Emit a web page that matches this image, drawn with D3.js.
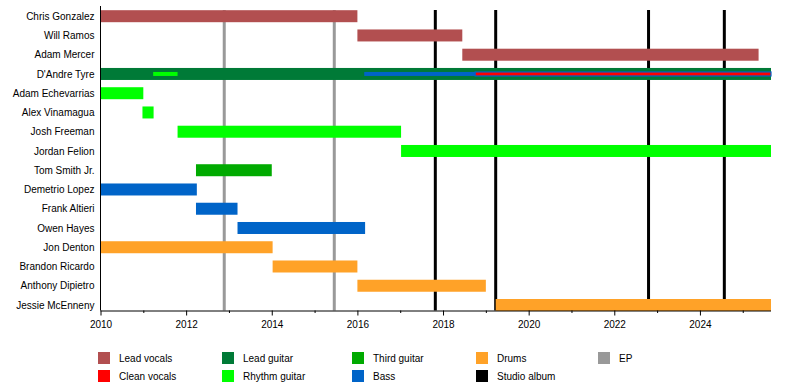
<!DOCTYPE html>
<html>
<head>
<meta charset="utf-8">
<script src="https://cdn.jsdelivr.net/npm/d3@7"></script>
<style>
  html, body { margin: 0; padding: 0; background: #fff; }
  svg { display: block; font-family: "Liberation Sans", Arial, sans-serif; }
</style>
</head>
<body>
<svg id="chart" width="800" height="390"></svg>
<script>
// ---- data ----
const startYear = 2010;
const endDate = 2025.66;

const members = [
  "Chris Gonzalez", "Will Ramos", "Adam Mercer", "D'Andre Tyre",
  "Adam Echevarrias", "Alex Vinamagua", "Josh Freeman", "Jordan Felion",
  "Tom Smith Jr.", "Demetrio Lopez", "Frank Altieri", "Owen Hayes",
  "Jon Denton", "Brandon Ricardo", "Anthony Dipietro", "Jessie McEnneny"
];

const roles = ["Lead vocals", "Clean vocals", "Lead guitar", "Rhythm guitar",
               "Third guitar", "Bass", "Drums"];
const roleColors = ["#b24f50", "#ff0000", "#007a37", "#00ff00",
                    "#00aa00", "#0064c8", "#ffa228"];

// main bars: [member, role, start, end]
const mainBars = [
  ["Chris Gonzalez", "Lead vocals", 2010, 2016.0],
  ["Will Ramos", "Lead vocals", 2016.0, 2018.45],
  ["Adam Mercer", "Lead vocals", 2018.45, 2025.37],
  ["D'Andre Tyre", "Lead guitar", 2010, endDate],
  ["Adam Echevarrias", "Rhythm guitar", 2010, 2011.0],
  ["Alex Vinamagua", "Rhythm guitar", 2010.98, 2011.24],
  ["Josh Freeman", "Rhythm guitar", 2011.8, 2017.02],
  ["Jordan Felion", "Rhythm guitar", 2017.02, endDate],
  ["Tom Smith Jr.", "Third guitar", 2012.23, 2014.0],
  ["Demetrio Lopez", "Bass", 2010, 2012.25],
  ["Frank Altieri", "Bass", 2012.23, 2013.2],
  ["Owen Hayes", "Bass", 2013.2, 2016.18],
  ["Jon Denton", "Drums", 2010, 2014.02],
  ["Brandon Ricardo", "Drums", 2014.02, 2016.0],
  ["Anthony Dipietro", "Drums", 2016.0, 2019.0],
  ["Jessie McEnneny", "Drums", 2019.23, endDate]
];

// secondary (thin) bars: [member, role, start, end]
const thinBars = [
  ["D'Andre Tyre", "Rhythm guitar", 2011.23, 2011.8],
  ["D'Andre Tyre", "Bass", 2016.16, 2018.75],
  ["D'Andre Tyre", "Clean vocals", 2018.75, endDate]
];

const epDates = [2012.89, 2015.46];
const studioDates = [2017.82, 2019.23, 2022.8, 2024.57];

const majorTicks = [2010, 2012, 2014, 2016, 2018, 2020, 2022, 2024];
const minorTicks = [2011, 2013, 2015, 2017, 2019, 2021, 2023, 2025];

const legendItems = [
  ["Lead vocals", "#b24f50"], ["Clean vocals", "#ff0000"],
  ["Lead guitar", "#007a37"], ["Rhythm guitar", "#00ff00"],
  ["Third guitar", "#00aa00"], ["Bass", "#0064c8"],
  ["Drums", "#ffa228"], ["Studio album", "#000000"],
  ["EP", "#999999"]
];

// ---- scales ----
const svg = d3.select("#chart");
const plotTop = 10, plotBottom = 310.5, plotLeft = 100.5, plotRight = 771;

const x = d3.scaleLinear().domain([startYear, endDate]).range([plotLeft, plotRight]);
const y = d3.scalePoint().domain(members).range([16.2, 305]);
const color = d3.scaleOrdinal().domain(roles).range(roleColors);

const barH = 12, thinH = 4;

// ---- release lines (behind) ----
svg.append("g").selectAll("line").data(epDates).join("line")
  .attr("x1", d => x(d)).attr("x2", d => x(d))
  .attr("y1", plotTop).attr("y2", plotBottom)
  .attr("stroke", "#999999").attr("stroke-width", 3);

svg.append("g").selectAll("line").data(studioDates).join("line")
  .attr("x1", d => x(d)).attr("x2", d => x(d))
  .attr("y1", plotTop).attr("y2", plotBottom)
  .attr("stroke", "#000000").attr("stroke-width", 3);

// ---- bars ----
svg.append("g").selectAll("rect").data(mainBars).join("rect")
  .attr("x", d => x(d[2]))
  .attr("width", d => x(d[3]) - x(d[2]))
  .attr("y", d => y(d[0]) - barH / 2)
  .attr("height", barH)
  .attr("fill", d => color(d[1]));

svg.append("g").selectAll("rect").data(thinBars).join("rect")
  .attr("x", d => x(d[2]))
  .attr("width", d => x(d[3]) - x(d[2]))
  .attr("y", d => y(d[0]) - thinH / 2)
  .attr("height", thinH)
  .attr("fill", d => color(d[1]))
  .attr("stroke", d => d[1] === "Clean vocals" ? color("Bass") : "none")
  .attr("stroke-width", 1.2);

// ---- axes ----
const xAxisMajor = d3.axisBottom(x).tickValues(majorTicks)
  .tickFormat(d3.format("d")).tickSize(5).tickPadding(5);
const gx = svg.append("g").attr("transform", `translate(0,${plotBottom})`).call(xAxisMajor);
gx.select(".domain").attr("d", `M${plotLeft},0.5H${plotRight}`).attr("stroke", "#000");
gx.selectAll("text").attr("font-size", 10).attr("fill", "#000")
  .attr("font-family", "Liberation Sans, Arial, sans-serif");

const xAxisMinor = d3.axisBottom(x).tickValues(minorTicks).tickFormat("").tickSize(2.5);
const gm = svg.append("g").attr("transform", `translate(0,${plotBottom})`).call(xAxisMinor);
gm.select(".domain").remove();

const yAxis = d3.axisLeft(y).tickSize(0).tickPadding(6);
const gy = svg.append("g").attr("transform", `translate(${plotLeft},0)`).call(yAxis);
gy.select(".domain").attr("d", `M0,${plotTop - 4}V${plotBottom}`).attr("stroke", "#000");
gy.selectAll("text").attr("font-size", 10).attr("fill", "#000")
  .attr("font-family", "Liberation Sans, Arial, sans-serif");

// ---- legend ----
const legendCols = [98, 222, 352, 476, 598];
const legendRows = [352, 370];
const lg = svg.append("g").selectAll("g").data(legendItems).join("g")
  .attr("transform", (d, i) => `translate(${legendCols[Math.floor(i / 2)]},${legendRows[i % 2]})`);
lg.append("rect").attr("width", 12).attr("height", 12).attr("fill", d => d[1]);
lg.append("text").attr("x", 21).attr("y", 10).attr("font-size", 10).attr("fill", "#000")
  .text(d => d[0]);
</script>
</body>
</html>
